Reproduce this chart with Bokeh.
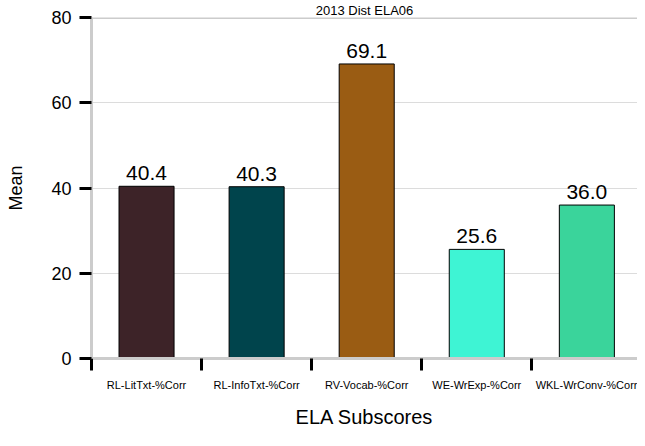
from bokeh.plotting import figure
from bokeh.models import Range1d, FixedTicker, LabelSet, Span, ColumnDataSource
from bokeh.embed import file_html
from bokeh.resources import INLINE
from bokeh.core.properties import value

# ---- data ----
title_text = "2013 Dist ELA06"
categories = ["RL-LitTxt-%Corr", "RL-InfoTxt-%Corr", "RV-Vocab-%Corr", "WE-WrExp-%Corr", "WKL-WrConv-%Corr"]
means = [40.4, 40.3, 69.1, 25.6, 36.0]
bar_colors = ["#3d2328", "#00444c", "#9a5c13", "#3ef4d4", "#3ad49b"]
y_ticks = [0, 20, 40, 60, 80]
x_label = "ELA Subscores"
y_label = "Mean"

FONT = "Liberation Sans"

xs = [i + 0.5 for i in range(len(categories))]
labels = ["%.1f" % v for v in means]
src = ColumnDataSource(dict(x=xs, top=means, color=bar_colors, label=labels))

p = figure(width=637, height=430, output_backend="svg", toolbar_location=None,
           x_range=Range1d(0, 4.96), y_range=Range1d(0, 80),
           min_border_left=91, min_border_top=15, min_border_right=0, min_border_bottom=10)
p.outline_line_color = None
p.background_fill_color = "white"
p.border_fill_color = "white"

# title
p.title.text = title_text
p.title.align = "center"
p.title.text_font = FONT
p.title.text_font_size = "13px"
p.title.text_font_style = "normal"
p.title.text_color = "black"
p.title.standoff = 0
p.title.offset = 0

p.vbar(x="x", top="top", width=0.5, bottom=0, fill_color="color", line_color="black",
       line_width=1, source=src)
p.add_layout(LabelSet(x="x", y="top", text="label", source=src, text_align="center",
                      text_baseline="alphabetic", y_offset=6, text_font=value(FONT),
                      text_font_size=value("21px"), text_color=value("black")))

# grid
p.xgrid.visible = False
p.ygrid.ticker = FixedTicker(ticks=y_ticks)
p.ygrid.grid_line_color = "#dcdcdc"
p.ygrid.grid_line_width = 1

# top border line
p.add_layout(Span(location=y_ticks[-1], dimension="width", line_color="#cccccc", line_width=3))

# y axis
ya = p.yaxis[0]
ya.ticker = FixedTicker(ticks=y_ticks)
ya.axis_line_color = "#cccccc"
ya.axis_line_width = 3
ya.major_tick_line_color = "black"
ya.major_tick_line_width = 3
ya.major_tick_out = 12
ya.major_tick_in = 0
ya.minor_tick_line_color = None
ya.major_label_text_font = FONT
ya.major_label_text_font_size = "18px"
ya.major_label_text_color = "black"
ya.major_label_standoff = 8
ya.axis_label = y_label
ya.axis_label_text_font = FONT
ya.axis_label_text_font_style = "normal"
ya.axis_label_text_font_size = "18px"
ya.axis_label_text_color = "black"
ya.axis_label_standoff = 22

# x axis: labels at category centres, black tick marks at boundaries
xa = p.xaxis[0]
xa.ticker = FixedTicker(ticks=xs, minor_ticks=list(range(len(categories))))
xa.major_label_overrides = {x: c for x, c in zip(xs, categories)}
xa.axis_line_color = "#cccccc"
xa.axis_line_width = 3
xa.major_tick_line_color = None
xa.major_tick_out = 12
xa.major_tick_in = 0
xa.minor_tick_line_color = "black"
xa.minor_tick_line_width = 3
xa.minor_tick_out = 12
xa.minor_tick_in = 0
xa.major_label_text_font = FONT
xa.major_label_text_font_size = "11px"
xa.major_label_text_color = "black"
xa.major_label_standoff = 8
xa.axis_label = x_label
xa.axis_label_text_font = FONT
xa.axis_label_text_font_style = "normal"
xa.axis_label_text_font_size = "20px"
xa.axis_label_text_color = "black"
xa.axis_label_standoff = 12

open("out.html", "w").write(file_html(p, INLINE))
